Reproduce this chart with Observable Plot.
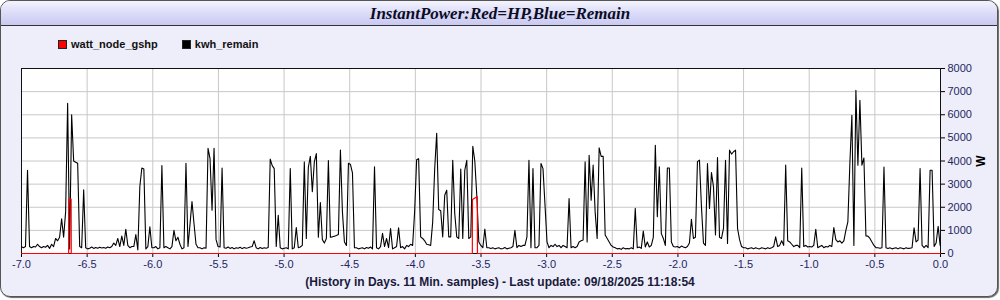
<!DOCTYPE html>
<html><head><meta charset="utf-8">
<script src="https://cdn.jsdelivr.net/npm/d3@7"></script>
<script src="https://cdn.jsdelivr.net/npm/@observablehq/plot@0.6"></script>
<style>
html,body{margin:0;padding:0;background:#fff;width:1000px;height:300px;overflow:hidden;font-family:"Liberation Sans",Arial,sans-serif;}
#panel{position:absolute;left:0;top:0;width:996px;height:295px;border:1px solid #555;border-radius:10px;background:#eeeefb;box-shadow:1px 1px 1px #666;overflow:hidden;}
#titlebar{position:absolute;left:0;top:0;width:100%;height:24px;background:linear-gradient(#f4f4fe,#e2e2fa 35%,#c9c9f2);border-bottom:1px solid #333;}
#title{position:absolute;left:0;top:0;width:1000px;text-align:center;font-family:"Liberation Serif","Times New Roman",serif;font-style:italic;font-weight:bold;font-size:17px;line-height:27px;color:#0c0c24;}
#legend{position:absolute;top:38px;left:58px;font-size:11px;font-weight:bold;color:#111;white-space:nowrap;}
#legend span.item{display:inline-flex;align-items:center;margin-right:24px;}
#legend .sw{display:inline-block;width:7px;height:7px;border:1px solid #222;margin-right:4px;}
#chart{position:absolute;left:0;top:58px;}
#footer{position:absolute;top:275px;left:0;width:1000px;text-align:center;font-size:12px;font-weight:bold;color:#1a1a3a;}
#chart g[aria-label$="tick label"]{fill:#1e2660;}
</style>
</head>
<body>
<div id="panel"><div id="titlebar"></div></div>
<div id="title"></div>
<div id="legend"></div>
<div id="chart"></div>
<div id="footer"></div>
<script>
// ---- data ----
const titleText = "InstantPower:Red=HP,Blue=Remain";
const footerText = "(History in Days. 11 Min. samples) - Last update: 09/18/2025 11:18:54";
const seriesNames = ["watt_node_gshp", "kwh_remain"];
const seriesColors = ["#ff0000", "#000000"];
const yLabel = "W";
const xTicks = [-7.0, -6.5, -6.0, -5.5, -5.0, -4.5, -4.0, -3.5, -3.0, -2.5, -2.0, -1.5, -1.0, -0.5, 0.0];
const yTicks = [0, 1000, 2000, 3000, 4000, 5000, 6000, 7000, 8000];
const sampleMinutes = 22; // plotted every other 11-min sample
// kwh_remain (W), oldest first
const remainW = [
 290,250,300,3600,300,250,300,280,400,300,
 250,300,270,350,220,400,300,650,550,700,
 1500,700,1800,6500,200,6000,4000,3950,3900,300,
 250,2750,250,200,230,280,220,260,230,270,
 240,260,230,280,250,300,450,350,650,300,
 750,350,1050,350,250,300,
 300,820,150,2900,3700,3650,200,300,1150,250,
 250,300,200,250,3800,250,300,250,200,300,
 1000,550,700,400,200,250,3900,300,1250,2250,
 1300,400,250,250,200,250,230,4550,4100,1870,
 4550,600,300,280,3700,250,230,280,220,260,
 200,250,230,270,210,260,230,250,280,
 300,550,250,200,260,220,250,230,260,
 4080,3800,3670,300,1650,250,200,230,250,200,
 3670,200,250,1120,250,280,350,3960,650,3720,
 4200,2670,3960,4320,700,2200,600,450,650,4020,
 700,720,750,780,820,4470,1800,500,350,3900,
 3850,3490,250,250,200,230,250,200,260,
 230,280,200,3750,250,200,300,870,300,650,
 250,1080,200,250,300,1110,250,300,200,350,
 300,400,350,1800,4050,4100,720,650,550,400,
 380,350,1350,3650,5200,1900,1850,720,2520,2740,
 720,720,4030,1730,720,650,3650,650,3600,4030,
 650,720,4640,4000,2500,500,350,250,1060,
 250,250,220,250,200,230,250,200,220,260,
 200,230,250,300,1000,250,350,300,350,350,
 720,4030,250,3670,250,250,350,3890,3670,2100,
 500,250,350,300,400,300,350,250,350,300,250,
 2380,250,300,250,300,500,550,580,3970,500,
 4250,2300,3820,1800,650,4570,4200,
 4200,800,650,500,350,280,
 250,200,220,180,250,200,220,200,250,200,
 1950,250,280,220,970,280,500,280,350,700,
 4680,1590,3750,860,650,350,3700,3700,500,300,
 280,300,250,320,280,250,300,450,1480,650,700,
 3970,4040,2020,450,350,3890,1950,3500,2880,800,
 4150,
 700,650,1100,4030,430,4470,4300,4400,4470,1080,
 600,300,250,250,200,230,250,200,250,220,
 200,250,230,200,250,220,250,300,720,300,
 350,550,350,3820,550,500,400,300,350,350,
 250,3700,300,350,280,300,280,350,1050,250,
 300,350,250,300,280,350,300,1120,
 600,500,550,450,550,1000,
 1370,3900,5980,350,7060,3820,6630,3820,4130,760,
 750,650,500,350,250,250,230,250,3740,250,
 220,250,200,230,250,200,250,230,200,250,220,230,250,
 1110,500,580,3670,350,250,350,250,3600,3600,300,450,1180,350
];
// watt_node_gshp (W): change points, days
const hpDays  = [-7.0, -6.641, -6.640, -6.622, -6.621, -3.566, -3.565, -3.547, -3.528, -3.527, 0.0];
const hpWatts = [0,     0,      2350,   2350,   0,      0,      2330,   2400,   2450,   0,      0];

// ---- build ----
const remain = remainW.map((w, i) => ({t: -7 + i * sampleMinutes / 1440, w}));
const hp = hpDays.map((t, i) => ({t, w: hpWatts[i]}));

document.getElementById("title").textContent = titleText;
document.getElementById("footer").textContent = footerText;
const leg = document.getElementById("legend");
seriesNames.forEach((n, i) => {
  const s = document.createElement("span"); s.className = "item";
  const sw = document.createElement("span"); sw.className = "sw"; sw.style.background = seriesColors[i];
  s.appendChild(sw); s.appendChild(document.createTextNode(n)); leg.appendChild(s);
});

const chart = Plot.plot({
  width: 1000, height: 217,
  marginLeft: 21, marginRight: 60, marginTop: 10, marginBottom: 22,
  style: {background: "transparent", fontFamily: "'Liberation Sans', Arial, sans-serif", fontSize: "11px", overflow: "visible"},
  x: {domain: [-7, 0]},
  y: {domain: [0, 8000]},
  marks: [
    Plot.frame({fill: "white", stroke: null}),
    Plot.gridX(xTicks, {stroke: "#c8c8c8", strokeOpacity: 1}),
    Plot.gridY(yTicks, {stroke: "#c8c8c8", strokeOpacity: 1}),
    Plot.frame({stroke: "#111"}),
    Plot.axisX({ticks: xTicks, tickFormat: d => d.toFixed(1), tickSize: 4, tickPadding: 3, label: null}),
    Plot.axisY({anchor: "right", ticks: yTicks, tickFormat: d => String(d), tickSize: 4, tickPadding: 3,
                label: yLabel, labelAnchor: "center", labelArrow: "none", labelOffset: 44}),
    Plot.line(remain, {x: "t", y: "w", stroke: seriesColors[1], strokeWidth: 1.1}),
    Plot.line(hp, {x: "t", y: "w", stroke: seriesColors[0], strokeWidth: 1.2})
  ]
});
document.getElementById("chart").appendChild(chart);
chart.querySelectorAll('g[aria-label="y-axis label"] text').forEach(t => { t.style.fontWeight = "bold"; t.style.fontSize = "12px"; });
</script>
</body></html>
